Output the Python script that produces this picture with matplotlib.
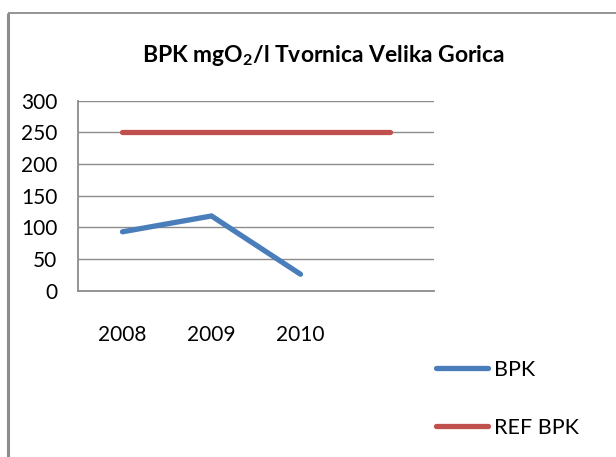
import matplotlib
matplotlib.use("Agg")
import matplotlib.pyplot as plt
from matplotlib.lines import Line2D

categories = ["2008", "2009", "2010", ""]
bpk = [93, 118, 26]
ref_bpk = [250, 250, 250, 250]
y_ticks = [0, 50, 100, 150, 200, 250, 300]

plt.rcParams['font.family'] = ['Lato', 'DejaVu Sans']

W, H = 616, 457
fig = plt.figure(figsize=(W / 100, H / 100), dpi=100)
fig.patch.set_facecolor("white")

# outer chart frame (only left and top visible)
fig.add_artist(Line2D([8 / W, 8 / W], [0, 1 - 12.5 / H], transform=fig.transFigure,
                      color="#8c8c8c", lw=2.2, solid_capstyle="butt"))
fig.add_artist(Line2D([8 / W, 1], [1 - 12.5 / H, 1 - 12.5 / H], transform=fig.transFigure,
                      color="#8c8c8c", lw=1.3, solid_capstyle="butt"))

left, right = 78 / W, 434 / W
bottom, top = 1 - 290.7 / H, 1 - 100.7 / H
ax = fig.add_axes([left, bottom, right - left, top - bottom])

x = list(range(len(categories)))
ax.plot(x[:len(bpk)], bpk, color="#4a7ebb", lw=3.8, solid_capstyle="round",
        solid_joinstyle="miter", label="BPK", zorder=3)
ax.plot(x[:len(ref_bpk)], ref_bpk, color="#c0504d", lw=3.8, solid_capstyle="round",
        label="REF BPK", zorder=3)

ax.set_xlim(-0.5, len(categories) - 0.5)
ax.set_ylim(0, 300)
ax.set_yticks(y_ticks)
ax.set_yticklabels([str(v) for v in y_ticks], fontsize=15)
ax.set_xticks(x)
ax.set_xticklabels(categories, fontsize=15)
ax.tick_params(axis="y", length=0, pad=15)
ax.tick_params(axis="x", length=0, pad=25)
ax.yaxis.grid(True, color="#8c8c8c", lw=1.0)
ax.set_axisbelow(True)
for s in ["top", "right"]:
    ax.spines[s].set_visible(False)
for s in ["left", "bottom"]:
    ax.spines[s].set_color("#8c8c8c")
    ax.spines[s].set_linewidth(1.3)

fig.text(323 / W, 1 - 55.7 / H, r"BPK mgO$_\mathregular{2}$/l Tvornica Velika Gorica",
         ha="center", va="center", fontsize=16.5, fontweight="bold")

leg = ax.legend(loc="upper left", bbox_to_anchor=(436 / W, 1 - 360 / H),
                bbox_transform=fig.transFigure, frameon=False, fontsize=15.5,
                handlelength=2.4, handletextpad=0.3, labelspacing=1.75,
                borderpad=0, borderaxespad=0)

fig.savefig("out.png", dpi=100, facecolor="white")
